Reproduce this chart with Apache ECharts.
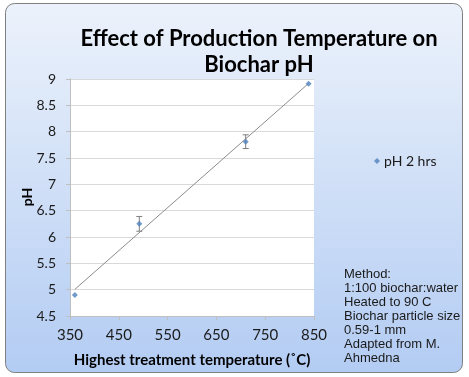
<!DOCTYPE html>
<html>
<head>
<meta charset="utf-8">
<script src="https://cdn.jsdelivr.net/npm/echarts@6/dist/echarts.min.js"></script>
<style>
  html, body { margin: 0; padding: 0; background: #ffffff; }
  #chart { width: 469px; height: 377px; }
</style>
</head>
<body>
<div id="chart"></div>
<script>
// data
const temps = [360, 492, 710, 839];
const phValues = [4.9, 6.25, 7.81, 8.91];
const phErrors = [0, 0.14, 0.13, 0];
const xTicks = [350, 450, 550, 650, 750, 850];
const yTicks = [4.5, 5, 5.5, 6, 6.5, 7, 7.5, 8, 8.5, 9];
const noteLines = [
  "Method:",
  "1:100 biochar:water",
  "Heated to 90 C",
  "Biochar particle size",
  "0.59-1 mm",
  "Adapted from M.",
  "Ahmedna"
];

const FONT = "Lato";

// linear trendline (least squares) over the data range
const n = temps.length;
const mx = temps.reduce((a, b) => a + b, 0) / n;
const my = phValues.reduce((a, b) => a + b, 0) / n;
let sxy = 0, sxx = 0;
for (let i = 0; i < n; i++) {
  sxy += (temps[i] - mx) * (phValues[i] - my);
  sxx += (temps[i] - mx) * (temps[i] - mx);
}
const slope = sxy / sxx;
const x0 = Math.min(...temps), x1 = Math.max(...temps);
const trend = [[x0, my + slope * (x0 - mx)], [x1, my + slope * (x1 - mx)]];

const chart = echarts.init(document.getElementById("chart"));

const option = {
  animation: false,
  backgroundColor: "#ffffff",
  graphic: [
    {
      type: "rect",
      z: -10,
      shape: { x: 5.5, y: 3.5, width: 457, height: 369, r: 9 },
      style: {
        fill: new echarts.graphic.LinearGradient(0, 0, 0, 1, [
          { offset: 0, color: "#ecf2fb" },
          { offset: 1, color: "#b3ccf3" }
        ]),
        stroke: "#7f7f7f",
        lineWidth: 1
      }
    },
    {
      // y axis title, placed by hand so the labels don't push it
      type: "text",
      x: 27,
      y: 197,
      rotation: Math.PI / 2,
      style: {
        text: "pH",
        fontFamily: FONT,
        fontSize: 14,
        fontWeight: "bold",
        fill: "#000000",
        align: "center",
        verticalAlign: "middle"
      }
    }
  ],
  title: [
    {
      text: "Effect of Production Temperature on\nBiochar pH",
      left: 254,
      textAlign: "center",
      top: 21,
      textStyle: {
        fontFamily: FONT,
        fontSize: 22,
        fontWeight: "bold",
        color: "#000000",
        lineHeight: 26
      }
    },
    {
      text: noteLines.join("\n"),
      left: 344,
      top: 267,
      padding: 0,
      textStyle: {
        fontFamily: "Liberation Sans",
        fontSize: 13,
        fontWeight: "normal",
        color: "#1a1a1a",
        lineHeight: 14
      }
    }
  ],
  legend: {
    left: 369,
    top: 149,
    itemWidth: 6,
    itemHeight: 6,
    itemGap: 4,
    data: [{ name: "pH 2 hrs", icon: "diamond" }],
    textStyle: { fontFamily: FONT, fontSize: 14, color: "#1a1a1a", padding: [0, 0, 0, -1] }
  },
  grid: {
    left: 70,
    right: 155,
    top: 79,
    bottom: 61,
    show: true,
    backgroundColor: "#ffffff",
    borderWidth: 0
  },
  xAxis: {
    type: "value",
    min: xTicks[0],
    max: xTicks[xTicks.length - 1],
    interval: 100,
    name: "Highest treatment temperature (˚C)",
    nameLocation: "middle",
    nameGap: 37,
    nameTextStyle: { fontFamily: FONT, fontSize: 15, fontWeight: "bold", color: "#000" },
    axisLine: { show: true, lineStyle: { color: "#bfbfbf" } },
    axisTick: { show: true, length: 4, lineStyle: { color: "#bfbfbf" } },
    axisLabel: { fontFamily: FONT, fontSize: 15, color: "#1a1a1a", margin: 12 },
    splitLine: { show: false }
  },
  yAxis: {
    type: "value",
    min: yTicks[0],
    max: yTicks[yTicks.length - 1],
    interval: 0.5,
    axisLine: { show: true, lineStyle: { color: "#bfbfbf" } },
    axisTick: { show: true, length: 4, lineStyle: { color: "#bfbfbf" } },
    axisLabel: { fontFamily: FONT, fontSize: 14, color: "#1a1a1a", margin: 14 },
    splitLine: { show: true, lineStyle: { color: "#d9d9d9", width: 1 } }
  },
  series: [
    {
      name: "trend",
      type: "line",
      data: trend,
      symbol: "none",
      silent: true,
      lineStyle: { color: "#8c8c8c", width: 1 },
      z: 2
    },
    {
      name: "errors",
      type: "custom",
      silent: true,
      data: temps.map((t, i) => [t, phValues[i] - phErrors[i], phValues[i] + phErrors[i]]),
      renderItem: function (params, api) {
        const lo = api.coord([api.value(0), api.value(1)]);
        const hi = api.coord([api.value(0), api.value(2)]);
        if (Math.abs(hi[1] - lo[1]) < 1) return;
        const w = 3;
        const st = { stroke: "#7f7f7f", lineWidth: 1 };
        return {
          type: "group",
          children: [
            { type: "line", shape: { x1: lo[0], y1: lo[1], x2: hi[0], y2: hi[1] }, style: st },
            { type: "line", shape: { x1: lo[0] - w, y1: lo[1], x2: lo[0] + w, y2: lo[1] }, style: st },
            { type: "line", shape: { x1: hi[0] - w, y1: hi[1], x2: hi[0] + w, y2: hi[1] }, style: st }
          ]
        };
      },
      z: 3
    },
    {
      name: "pH 2 hrs",
      type: "scatter",
      data: temps.map((t, i) => [t, phValues[i]]),
      symbol: "diamond",
      symbolSize: 6,
      itemStyle: { color: "#4f81bd" },
      z: 4
    }
  ]
};

chart.setOption(option);
</script>
</body>
</html>
